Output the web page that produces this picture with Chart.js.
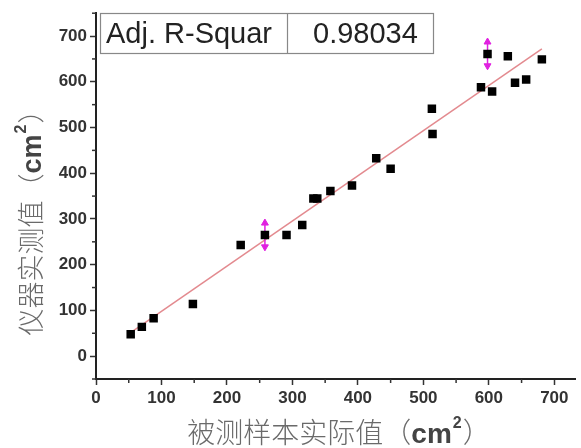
<!DOCTYPE html>
<html><head><meta charset="utf-8">
<script src="https://cdn.jsdelivr.net/npm/chart.js@4"></script>
<style>html,body{margin:0;padding:0;background:#fff}</style>
</head><body>
<canvas id="c" width="581" height="448"></canvas>
<script>
// ---- data ----
const actualX   = [53,70,88,148,221,258,291,315,332,338,358,391,428,450,513,514,588,598,605,629,640,657,681];
const measuredY = [48,64,83,114,243,265,265,287,345,345,361,373,433,410,541,486,588,661,579,656,598,605,649];
const fitX = [49, 681];
const fitY = [47.5, 672];
const markedX = [258, 598];
const markedY = [265, 661];
const markerHalf = 32;
const xTickValues = [0,100,200,300,400,500,600,700];
const yTickValues = [0,100,200,300,400,500,600,700];
const minorX = [50,150,250,350,450,550,650];
const minorY = [-50,50,150,250,350,450,550,650,750];
const statLabel = "Adj. R-Squar";
const statValue = "0.98034";
const xTitleCJK = "被测样本实际值（";
const yTitleCJK = "仪器实测值（";
const unitText = "cm";
const unitSup = "2";
const closeParen = "）";

const pts = actualX.map((x,i)=>({x, y: measuredY[i]}));
const fitPts = fitX.map((x,i)=>({x, y: fitY[i]}));
const arrowLine = [];
markedX.forEach((x,i)=>{arrowLine.push({x,y:markedY[i]-markerHalf});arrowLine.push({x,y:markedY[i]+markerHalf});arrowLine.push({x,y:null});});
const arrowUp = markedX.map((x,i)=>({x,y:markedY[i]+markerHalf-6}));
const arrowDown = markedX.map((x,i)=>({x,y:markedY[i]-markerHalf+6}));

const CJK = '"Noto Sans CJK SC"';
const SANS = '"Liberation Sans", Arial, sans-serif';

function drawTitle(ctx, cx, cy, size, rot, cjk){
  ctx.save();
  ctx.translate(cx, cy);
  if (rot) ctx.rotate(-Math.PI/2);
  ctx.textBaseline = 'alphabetic';
  const f1 = `300 ${size}px ${CJK}`;
  const f2 = `bold ${size}px ${SANS}`;
  const f3 = `bold ${Math.round(size*0.58)}px ${SANS}`;
  ctx.font = f1; const w1 = ctx.measureText(cjk).width; const w4 = ctx.measureText(closeParen).width;
  ctx.font = f2; const w2 = ctx.measureText(unitText).width;
  ctx.font = f3; const w3 = ctx.measureText(unitSup).width + 2;
  const total = w1+w2+w3+w4;
  let x = -total/2; const base = size*0.4;
  ctx.fillStyle = '#6a6a6a'; ctx.font = f1; ctx.fillText(cjk, x, base); x += w1;
  ctx.fillStyle = '#444'; ctx.font = f2; ctx.fillText(unitText, x, base); x += w2;
  ctx.font = f3; ctx.fillText(unitSup, x+1, base - size*0.55); x += w3;
  ctx.fillStyle = '#6a6a6a'; ctx.font = f1; ctx.fillText(closeParen, x, base);
  ctx.restore();
}

const decor = {
  id: 'decor',
  afterDraw(chart){
    const ctx = chart.ctx;
    const xs = chart.scales.x, ys = chart.scales.y;
    ctx.save();
    ctx.strokeStyle = '#333'; ctx.lineWidth = 1.5;
    minorX.forEach(v=>{const p = xs.getPixelForValue(v); ctx.beginPath(); ctx.moveTo(p, ys.bottom); ctx.lineTo(p, ys.bottom+4); ctx.stroke();});
    minorY.forEach(v=>{const p = ys.getPixelForValue(v); ctx.beginPath(); ctx.moveTo(xs.left, p); ctx.lineTo(xs.left-4, p); ctx.stroke();});
    // stat table
    ctx.strokeStyle = '#888'; ctx.lineWidth = 1.2;
    ctx.strokeRect(100.5, 13.5, 333, 40);
    ctx.beginPath(); ctx.moveTo(287.5, 13.5); ctx.lineTo(287.5, 53.5); ctx.stroke();
    ctx.fillStyle = '#222'; ctx.font = `29px ${SANS}`; ctx.textBaseline = 'alphabetic'; ctx.textAlign = 'left';
    ctx.fillText(statLabel, 106, 43);
    ctx.fillText(statValue, 313, 43);
    ctx.restore();
    drawTitle(ctx, 339, 432, 28, false, xTitleCJK);
    drawTitle(ctx, 30, 216, 27, true, yTitleCJK);
  }
};

new Chart(document.getElementById('c'), {
  type: 'scatter',
  data: { datasets: [
    { data: pts, pointStyle: 'rect', pointRadius: 6, pointHoverRadius: 6, backgroundColor: '#000', borderColor: '#000', borderWidth: 0, order: 0 },
    { type: 'line', data: arrowLine, showLine: true, spanGaps: false, borderColor: '#e020e0', borderWidth: 1.5, pointRadius: 0, order: 1 },
    { data: arrowUp, pointStyle: 'triangle', pointRadius: 4, rotation: 0, backgroundColor: '#e020e0', borderColor: '#e020e0', order: 1 },
    { data: arrowDown, pointStyle: 'triangle', pointRadius: 4, rotation: 180, backgroundColor: '#e020e0', borderColor: '#e020e0', order: 1 },
    { type: 'line', data: fitPts, showLine: true, borderColor: '#e38a8f', borderWidth: 1.5, pointRadius: 0, order: 2 }
  ]},
  options: {
    responsive: false, animation: false, devicePixelRatio: 1,
    layout: { padding: { top: 10, left: 0, right: 0, bottom: 0 } },
    plugins: { legend: { display: false }, tooltip: { enabled: false } },
    scales: {
      x: { type: 'linear', min: 0, max: 731.6,
        afterBuildTicks: s => { s.ticks = xTickValues.map(v=>({value:v})); },
        afterFit: s => { s.height = 69; },
        ticks: { font: { family: SANS, size: 17, weight: 'bold' }, color: '#333', padding: 3, maxRotation: 0, autoSkip: false },
        grid: { drawOnChartArea: false, drawTicks: true, tickLength: 6, tickWidth: 1.5, tickColor: '#333' },
        border: { display: true, color: '#222', width: 2 } },
      y: { type: 'linear', min: -50, max: 750,
        afterBuildTicks: s => { s.ticks = yTickValues.map(v=>({value:v})); },
        afterFit: s => { s.width = 96; },
        ticks: { font: { family: SANS, size: 17, weight: 'bold' }, color: '#333', padding: 3, autoSkip: false },
        grid: { drawOnChartArea: false, drawTicks: true, tickLength: 6, tickWidth: 1.5, tickColor: '#333' },
        border: { display: true, color: '#222', width: 2 } }
    }
  },
  plugins: [decor]
});
</script>
</body></html>
